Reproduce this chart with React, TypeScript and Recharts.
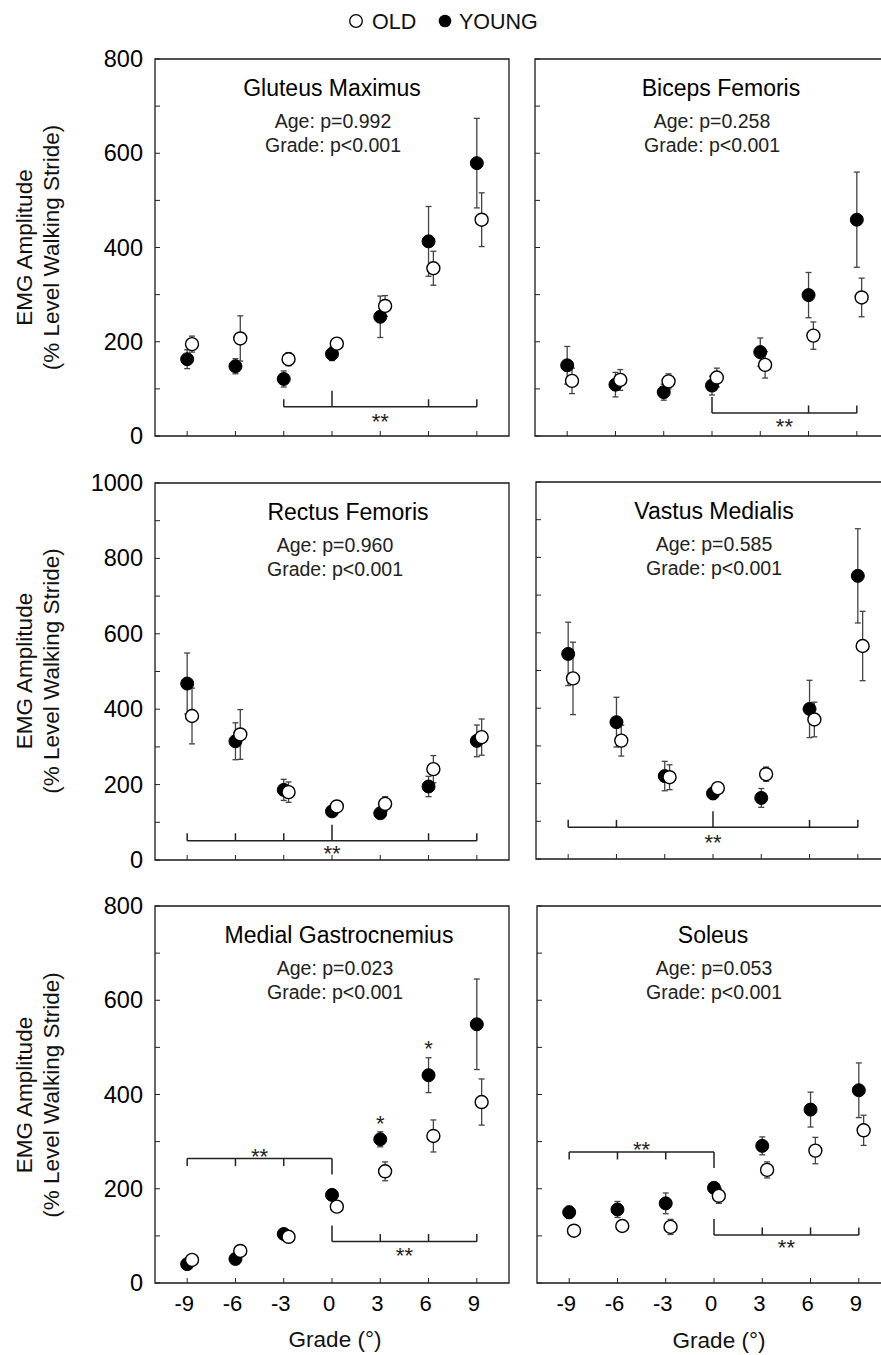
import React from "react";
import {
  ScatterChart,
  Scatter,
  XAxis,
  YAxis,
  ErrorBar,
  ReferenceArea,
  ReferenceLine,
  ReferenceDot,
} from "recharts";

const FONT = "'Liberation Sans', Arial, sans-serif";

// grade (deg) categories and axis ticks
const grades = [-9, -6, -3, 0, 3, 6, 9];
const gradeTicks = [-9, -6, -3, 0, 3, 6, 9];
const yTicks800 = [0, 100, 200, 300, 400, 500, 600, 700, 800];
const yTicks1000 = [0, 100, 200, 300, 400, 500, 600, 700, 800, 900, 1000];

// Gluteus Maximus
const gmYoung = [163, 148, 121, 174, 253, 413, 579];
const gmYoungErr = [20, 16, 17, 14, 44, 74, 95];
const gmOld = [195, 207, 163, 196, 276, 356, 459];
const gmOldErr = [17, 48, 14, 5, 22, 36, 57];

// Biceps Femoris
const bfYoung = [150, 109, 93, 107, 178, 299, 459];
const bfYoungErr = [40, 26, 17, 20, 30, 48, 101];
const bfOld = [117, 119, 116, 124, 151, 213, 294];
const bfOldErr = [27, 22, 16, 20, 28, 29, 41];

// Rectus Femoris
const rfYoung = [468, 315, 186, 129, 124, 195, 316];
const rfYoungErr = [81, 49, 28, 6, 6, 27, 42];
const rfOld = [382, 333, 180, 142, 149, 241, 326];
const rfOldErr = [74, 66, 27, 5, 19, 36, 48];

// Vastus Medialis
const vmYoung = [544, 363, 220, 174, 162, 398, 751];
const vmYoungErr = [84, 66, 39, 16, 25, 76, 125];
const vmOld = [479, 314, 217, 188, 225, 370, 565];
const vmOldErr = [96, 41, 33, 6, 19, 46, 92];

// Medial Gastrocnemius
const mgYoung = [40, 51, 104, 187, 305, 441, 549];
const mgYoungErr = [4, 4, 8, 6, 16, 37, 96];
const mgOld = [49, 68, 98, 162, 237, 312, 384];
const mgOldErr = [4, 5, 8, 8, 20, 34, 49];

// Soleus
const soYoung = [150, 156, 169, 202, 291, 368, 409];
const soYoungErr = [13, 17, 22, 6, 19, 37, 58];
const soOld = [111, 121, 119, 185, 240, 281, 324];
const soOldErr = [4, 4, 16, 16, 17, 28, 32];

// significance brackets: span, level, small ticks, tall tick at 0, direction, label spot
type Bracket = {
  from: number;
  to: number;
  y: number;
  ticks: number[];
  tall: number;
  dir: 1 | -1;
  starX: number;
  starY: number;
};

const gmBrackets: Bracket[] = [
  { from: -3, to: 9, y: 62, ticks: [-3, 6, 9], tall: 0, dir: 1, starX: 3, starY: 40 },
];
const bfBrackets: Bracket[] = [
  { from: 0, to: 9, y: 49, ticks: [6, 9], tall: 0, dir: 1, starX: 4.5, starY: 30 },
];
const rfBrackets: Bracket[] = [
  { from: -9, to: 9, y: 51, ticks: [-9, -6, -3, 6, 9], tall: 0, dir: 1, starX: 0, starY: 29 },
];
const vmBrackets: Bracket[] = [
  { from: -9, to: 9, y: 84, ticks: [-9, -6, 6, 9], tall: 0, dir: 1, starX: 0, starY: 57 },
];
const mgBrackets: Bracket[] = [
  { from: -9, to: 0, y: 264, ticks: [-9, -6, -3], tall: 0, dir: -1, starX: -4.5, starY: 278 },
  { from: 0, to: 9, y: 88, ticks: [3, 6, 9], tall: 0, dir: 1, starX: 4.5, starY: 68 },
];
const soBrackets: Bracket[] = [
  { from: -9, to: 0, y: 278, ticks: [-9, -6, -3], tall: 0, dir: -1, starX: -4.5, starY: 292 },
  { from: 0, to: 9, y: 102, ticks: [3, 6, 9], tall: 0, dir: 1, starX: 4.5, starY: 85 },
];

// single-point age differences (MG at 3 and 6 deg)
const mgSingleStars = [
  { x: 3, y: 347 },
  { x: 6, y: 508 },
];

const PLOT_W = 354;
const PLOT_H = 377;
const OLD_DODGE = 0.3;
const PAD_L = 70;
const PAD_T = 12;

const panels = [
  {
    title: "Gluteus Maximus", age: "Age: p=0.992", x0: 155, y0: 59, yMax: 800, yTicks: yTicks800,
    young: gmYoung, youngErr: gmYoungErr, old: gmOld, oldErr: gmOldErr,
    brackets: gmBrackets, stars: [], left: true, bottom: false, titleX: 332, pX: 333,
  },
  {
    title: "Biceps Femoris", age: "Age: p=0.258", x0: 535, y0: 59, yMax: 800, yTicks: yTicks800,
    young: bfYoung, youngErr: bfYoungErr, old: bfOld, oldErr: bfOldErr,
    brackets: bfBrackets, stars: [], left: false, bottom: false, titleX: 721, pX: 712,
  },
  {
    title: "Rectus Femoris", age: "Age: p=0.960", x0: 155, y0: 483, yMax: 1000, yTicks: yTicks1000,
    young: rfYoung, youngErr: rfYoungErr, old: rfOld, oldErr: rfOldErr,
    brackets: rfBrackets, stars: [], left: true, bottom: false, titleX: 348, pX: 335,
  },
  {
    title: "Vastus Medialis", age: "Age: p=0.585", x0: 536, y0: 482, yMax: 1000, yTicks: yTicks1000,
    young: vmYoung, youngErr: vmYoungErr, old: vmOld, oldErr: vmOldErr,
    brackets: vmBrackets, stars: [], left: false, bottom: false, titleX: 714, pX: 714,
  },
  {
    title: "Medial Gastrocnemius", age: "Age: p=0.023", x0: 155, y0: 906, yMax: 800, yTicks: yTicks800,
    young: mgYoung, youngErr: mgYoungErr, old: mgOld, oldErr: mgOldErr,
    brackets: mgBrackets, stars: mgSingleStars, left: true, bottom: true, titleX: 339, pX: 335,
  },
  {
    title: "Soleus", age: "Age: p=0.053", x0: 537, y0: 906, yMax: 800, yTicks: yTicks800,
    young: soYoung, youngErr: soYoungErr, old: soOld, oldErr: soOldErr,
    brackets: soBrackets, stars: [], left: false, bottom: true, titleX: 713, pX: 714,
  },
];

const filledDot = (props: any) => (
  <circle cx={props.cx} cy={props.cy} r={6.5} fill="#000" stroke="#000" strokeWidth={1} />
);
const openDot = (props: any) => (
  <circle cx={props.cx} cy={props.cy} r={6.5} fill="#fff" stroke="#000" strokeWidth={1.4} />
);

function Panel({ p }: { p: (typeof panels)[number] }) {
  const toUnits = (px: number) => (px * p.yMax) / PLOT_H;
  const youngData = grades.map((g, i) => ({ x: g, y: p.young[i], err: p.youngErr[i] }));
  const oldData = grades.map((g, i) => ({ x: g + OLD_DODGE, y: p.old[i], err: p.oldErr[i] }));

  const yTick = (t: any) => {
    const v = t.payload.value;
    return (
      <g>
        <line x1={t.x} x2={t.x + 5} y1={t.y} y2={t.y} stroke="#222" strokeWidth={1} />
        {p.left && v % 200 === 0 && (
          <text x={t.x - 12} y={t.y} dy={8} textAnchor="end" fontSize={23.5} fontFamily={FONT} fill="#000">
            {v}
          </text>
        )}
      </g>
    );
  };
  const xTick = (t: any) => (
    <g>
      <line x1={t.x} x2={t.x} y1={t.y} y2={t.y - 5} stroke="#222" strokeWidth={1} />
      {p.bottom && (
        <text x={t.x - 3} y={t.y + 28} textAnchor="middle" fontSize={22} fontFamily={FONT} fill="#000">
          {t.payload.value}
        </text>
      )}
    </g>
  );

  const tickLen = toUnits(7.5);
  const tallLen = toUnits(16);

  return (
    <div style={{ position: "absolute", left: p.x0 - PAD_L, top: p.y0 - PAD_T }}>
      <ScatterChart
        width={PLOT_W + PAD_L + 12}
        height={PLOT_H + PAD_T + 60}
        margin={{ top: PAD_T, right: 12, bottom: 0, left: 0 }}
      >
        <XAxis
          type="number"
          dataKey="x"
          domain={[-11, 11]}
          ticks={gradeTicks}
          interval={0}
          height={60}
          axisLine={false}
          tickLine={false}
          tickSize={0}
          tickMargin={0}
          tick={xTick}
          allowDataOverflow
        />
        <YAxis
          type="number"
          dataKey="y"
          domain={[0, p.yMax]}
          ticks={p.yTicks}
          interval={0}
          width={PAD_L}
          axisLine={false}
          tickLine={false}
          tickSize={0}
          tickMargin={0}
          tick={yTick}
          allowDataOverflow
        />
        <ReferenceArea
          x1={-11}
          x2={11}
          y1={0}
          y2={p.yMax}
          fill="none"
          fillOpacity={0}
          stroke="#1a1a1a"
          strokeWidth={1.3}
          ifOverflow="visible"
        />
        {p.brackets.map((b, bi) => (
          <React.Fragment key={`b${bi}`}>
            <ReferenceLine
              segment={[{ x: b.from, y: b.y }, { x: b.to, y: b.y }]}
              stroke="#222"
              strokeWidth={1.5}
              ifOverflow="visible"
            />
            {b.ticks.map((t) => (
              <ReferenceLine
                key={`t${t}`}
                segment={[{ x: t, y: b.y }, { x: t, y: b.y + b.dir * tickLen }]}
                stroke="#222"
                strokeWidth={1.5}
                ifOverflow="visible"
              />
            ))}
            <ReferenceLine
              segment={[{ x: b.tall, y: b.y }, { x: b.tall, y: b.y + b.dir * tallLen }]}
              stroke="#222"
              strokeWidth={1.5}
              ifOverflow="visible"
            />
            <ReferenceDot
              x={b.starX}
              y={b.starY}
              r={0}
              ifOverflow="visible"
              shape={(s: any) => (
                <text x={s.cx} y={s.cy} dy={12} textAnchor="middle" fontSize={22} fontFamily={FONT} fill="#222">
                  **
                </text>
              )}
            />
          </React.Fragment>
        ))}
        {p.stars.map((s, si) => (
          <ReferenceDot
            key={`s${si}`}
            x={s.x}
            y={s.y}
            r={0}
            ifOverflow="visible"
            shape={(d: any) => (
              <text x={d.cx} y={d.cy} dy={12} textAnchor="middle" fontSize={22} fontFamily={FONT} fill="#222">
                *
              </text>
            )}
          />
        ))}
        <Scatter data={youngData} shape={filledDot} isAnimationActive={false}>
          <ErrorBar dataKey="err" direction="y" width={3} stroke="#444" strokeWidth={1.3} isAnimationActive={false} />
        </Scatter>
        <Scatter data={oldData} shape={openDot} isAnimationActive={false}>
          <ErrorBar dataKey="err" direction="y" width={3} stroke="#444" strokeWidth={1.3} isAnimationActive={false} />
        </Scatter>
      </ScatterChart>
    </div>
  );
}

export default function App() {
  return (
    <div
      style={{
        position: "absolute",
        left: 0,
        top: 0,
        width: 881,
        height: 1355,
        overflow: "hidden",
        background: "#fff",
        fontFamily: FONT,
      }}
    >
      {panels.map((p) => (
        <Panel key={p.title} p={p} />
      ))}
      <svg
        width={881}
        height={1355}
        style={{ position: "absolute", left: 0, top: 0, pointerEvents: "none" }}
        fontFamily={FONT}
      >
        {/* legend */}
        <circle cx={356} cy={21} r={6.3} fill="#fff" stroke="#000" strokeWidth={1.3} />
        <text x={372} y={29} fontSize={21.5} fill="#111">OLD</text>
        <circle cx={445} cy={21} r={6.3} fill="#000" />
        <text x={459} y={29} fontSize={21.5} fill="#111">YOUNG</text>

        {/* y-axis titles */}
        {[247.5, 671, 1095].map((cy) => (
          <g key={cy}>
            <text transform={`translate(32,${cy}) rotate(-90)`} textAnchor="middle" fontSize={22.5} fill="#111">
              EMG Amplitude
            </text>
            <text transform={`translate(59,${cy}) rotate(-90)`} textAnchor="middle" fontSize={22.5} fill="#111">
              (% Level Walking Stride)
            </text>
          </g>
        ))}

        {/* x-axis titles */}
        <text x={335} y={1347} textAnchor="middle" fontSize={22.5} fill="#111">Grade (°)</text>
        <text x={719} y={1348} textAnchor="middle" fontSize={22.5} fill="#111">Grade (°)</text>

        {/* panel titles and stats */}
        {panels.map((p) => (
          <g key={p.title}>
            <text x={p.titleX} y={p.y0 + 36.5} textAnchor="middle" fontSize={23} fill="#000">
              {p.title}
            </text>
            <text x={p.pX} y={p.y0 + 69} textAnchor="middle" fontSize={19.5} fill="#222">
              {p.age}
            </text>
            <text x={p.pX} y={p.y0 + 92.5} textAnchor="middle" fontSize={19.5} fill="#222">
              Grade: p&lt;0.001
            </text>
          </g>
        ))}
      </svg>
    </div>
  );
}
